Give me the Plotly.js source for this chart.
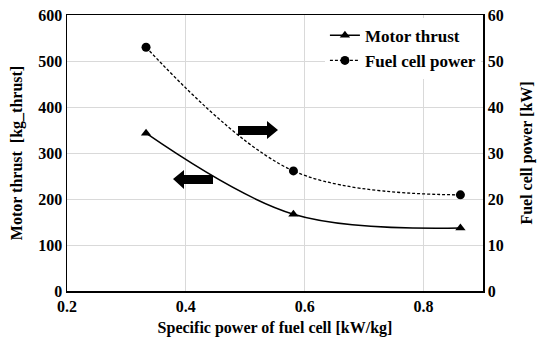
<!DOCTYPE html>
<html><head><meta charset="utf-8">
<script src="https://cdn.plot.ly/plotly-3.0.1.min.js"></script>
<style>html,body{margin:0;padding:0;background:#fff}#chart{width:539px;height:345px}</style>
</head><body><div id="chart"></div>
<script>
const specificPower = [0.333, 0.581, 0.862];
const motorThrust = [343, 167, 137];
const fuelCellPower = [53.0, 26.1, 20.9];
const xTicks = [0.2, 0.4, 0.6, 0.8];

const F = 'Liberation Serif';
function px(x){return (x-67)/416;}
function py(y){return (291-y)/276;}
function arrowPath(pts){return 'M'+pts.map(p=>px(p[0])+','+py(p[1])).join(' L')+' Z';}

const traces = [
 {x: specificPower, y: motorThrust, name: 'Motor thrust', type:'scatter', mode:'lines+markers',
  line:{color:'#000', width:1.5, shape:'spline'}, marker:{symbol:'triangle-up', size:9, color:'#000'}},
 {x: specificPower, y: fuelCellPower, name: 'Fuel cell power', type:'scatter', mode:'lines+markers', yaxis:'y2',
  line:{color:'#000', width:1.3, shape:'spline', dash:'3px,2px'}, marker:{symbol:'circle', size:9, color:'#000'}}
];

const tf = {family:F, size:16, weight:'bold', color:'#000'};
const layout = {
 width:539, height:345, margin:{l:67, r:56, t:15, b:54},
 paper_bgcolor:'#fff', plot_bgcolor:'#fff',
 font:{family:F, color:'#000', size:16, weight:'bold'},
 showlegend:true,
 legend:{x:0.995, y:0.99, xanchor:'right', yanchor:'top', bgcolor:'rgba(255,255,255,1)',
   font:{family:F, size:17, color:'#000', weight:'bold'}, tracegroupgap:0, itemwidth:30},
 xaxis:{range:[0.2,0.9], tickvals:xTicks, ticktext:xTicks.map(v=>v.toFixed(1)), showgrid:true, gridcolor:'#d9d9d9', gridwidth:1,
   showline:true, linecolor:'#000', linewidth:1.5, mirror:true, ticks:'', zeroline:false,
   tickfont:tf,
   title:{text:'Specific power of fuel cell [kW/kg]', font:tf, standoff:8}},
 yaxis:{range:[0,600], dtick:100, showgrid:true, gridcolor:'#d9d9d9', gridwidth:1,
   showline:true, linecolor:'#000', linewidth:1.5, ticks:'', zeroline:false,
   tickfont:tf,
   title:{text:'Motor thrust  [kg_thrust]', font:tf, standoff:11}},
 yaxis2:{range:[0,60], dtick:10, overlaying:'y', side:'right', showgrid:false,
   showline:true, linecolor:'#000', linewidth:1.5, ticks:'', zeroline:false,
   tickfont:tf,
   title:{text:'Fuel cell power [kW]', font:tf, standoff:18}},
 shapes:[
  {type:'path', xref:'paper', yref:'paper', fillcolor:'#000', line:{width:0},
   path: arrowPath([[173,179],[184,170],[184,175],[213,175],[213,184],[184,184],[184,189]])},
  {type:'path', xref:'paper', yref:'paper', fillcolor:'#000', line:{width:0},
   path: arrowPath([[278,130],[267,121],[267,126],[238,126],[238,135],[267,135],[267,139]])}
 ]
};
Plotly.newPlot('chart', traces, layout, {displayModeBar:false, staticPlot:true});
</script></body></html>
